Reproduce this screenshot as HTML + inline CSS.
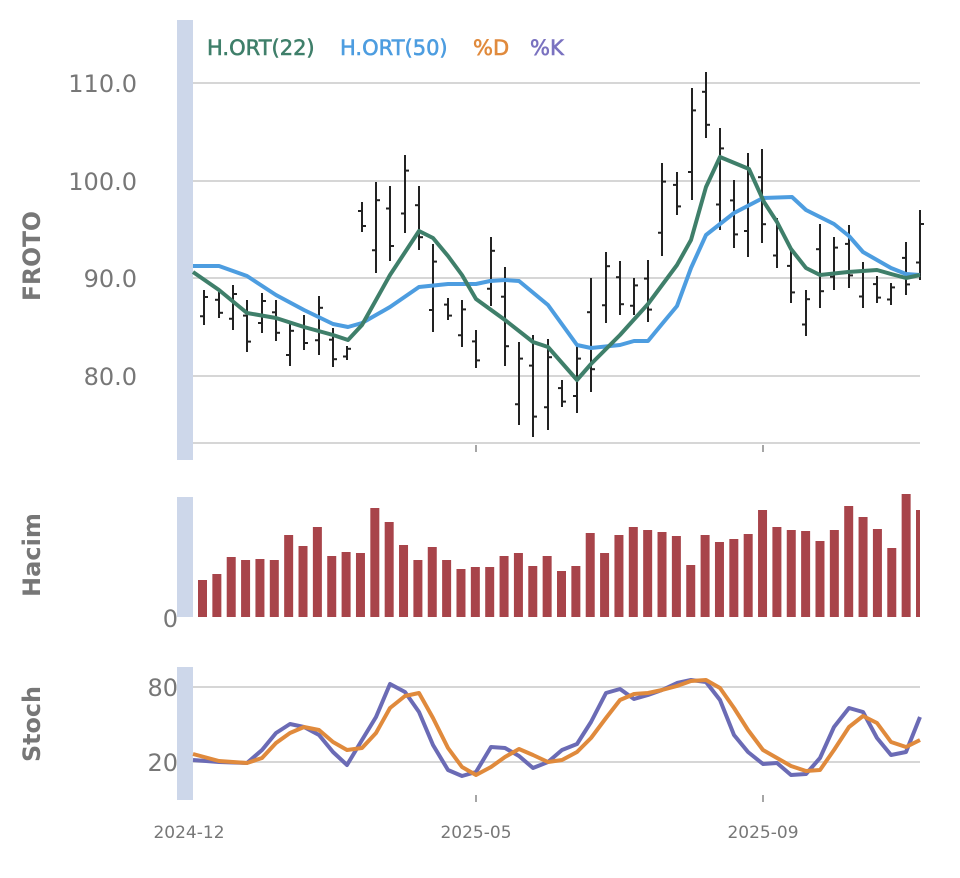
<!DOCTYPE html>
<html><head><meta charset="utf-8"><style>
html,body{margin:0;padding:0;background:#fff;}
svg{display:block;font-family:"DejaVu Sans","Liberation Sans",sans-serif;}
</style></head><body>
<svg id="c" width="960" height="878" xmlns="http://www.w3.org/2000/svg">
<rect width="960" height="878" fill="#fff"/>
<rect x="177" y="20" width="16" height="440" fill="#cdd7ea"/>
<rect x="177" y="497" width="16" height="120" fill="#cdd7ea"/>
<rect x="177" y="667" width="16" height="133" fill="#cdd7ea"/>
<g stroke="#d6d6d6" stroke-width="2">
<line x1="193" y1="83" x2="920" y2="83"/><line x1="193" y1="181" x2="920" y2="181"/>
<line x1="193" y1="278" x2="920" y2="278"/><line x1="193" y1="376" x2="920" y2="376"/>
<line x1="193" y1="443" x2="920" y2="443"/>
<line x1="193" y1="687" x2="920" y2="687"/><line x1="193" y1="762" x2="920" y2="762"/>
</g>
<g stroke="#888" stroke-width="1.5"><line x1="476" y1="445" x2="476" y2="452"/><line x1="763" y1="445" x2="763" y2="452"/>
<line x1="476" y1="795" x2="476" y2="802"/><line x1="763" y1="795" x2="763" y2="802"/></g>
<g fill="#777" font-size="24" text-anchor="end">
<text x="137" y="92">110.0</text><text x="137" y="190">100.0</text><text x="137" y="287">90.0</text><text x="137" y="385">80.0</text>
<text x="178" y="627">0</text><text x="178" y="696">80</text><text x="178" y="771">20</text>
</g>
<g fill="#777" font-size="24" font-weight="bold" text-anchor="middle">
<text transform="translate(40,256) rotate(-90)" textLength="90" lengthAdjust="spacingAndGlyphs">FROTO</text>
<text transform="translate(40,555) rotate(-90)" textLength="84" lengthAdjust="spacingAndGlyphs">Hacim</text>
<text transform="translate(40,724) rotate(-90)" textLength="76" lengthAdjust="spacingAndGlyphs">Stoch</text>
</g>
<g fill="#777" font-size="17" text-anchor="middle">
<text x="189" y="838">2024-12</text><text x="476" y="838">2025-05</text><text x="763" y="838">2025-09</text>
</g>
<g font-size="21" stroke-width="0.6">
<text x="207" y="55" fill="#3f7f6a" stroke="#3f7f6a">H.ORT(22)</text>
<text x="340" y="55" fill="#4d9de0" stroke="#4d9de0">H.ORT(50)</text>
<text x="473" y="55" fill="#e08a3c" stroke="#e08a3c">%D</text>
<text x="530" y="55" fill="#7a72c0" stroke="#7a72c0">%K</text>
</g>
<g id="vol" fill="#a8444a"></g>
<g id="ohlc" stroke="#222" stroke-width="2"></g>
<polyline id="ma50" fill="none" stroke="#4d9de0" stroke-width="4" stroke-linejoin="round"/>
<polyline id="ma22" fill="none" stroke="#3f7f6a" stroke-width="4" stroke-linejoin="round"/>
<polyline id="sk" fill="none" stroke="#6b6bb5" stroke-width="4" stroke-linejoin="round"/>
<polyline id="sd" fill="none" stroke="#e08a3c" stroke-width="4" stroke-linejoin="round"/>
</svg>
<script>
var NS="http://www.w3.org/2000/svg";
var bars=[[204,290,325],[219,292,318],[233,285,330],[247,300,352],[262,293,333],[276,300,341],[290,322,366],[304,315,350],[319,296,355],[333,328,367],[347,346,360],[362,202,232],[376,182,273],[390,186,261],[405,155,233],[419,186,250],[433,244,332],[448,298,320],[462,300,347],[476,330,368],[491,237,306],[505,267,366],[519,342,425],[533,335,437],[548,339,430],[562,380,407],[577,345,413],[591,278,392],[606,252,323],[620,261,315],[634,278,315],[648,260,322],[662,163,256],[677,172,215],[692,88,200],[706,72,138],[720,128,230],[734,180,248],[748,153,257],[762,149,243],[777,218,268],[791,250,303],[806,290,336],[820,224,308],[834,237,290],[849,225,288],[863,262,308],[877,276,303],[891,283,305],[906,242,295],[920,210,280]];
var g=document.getElementById("ohlc");
function ln(x1,y1,x2,y2){var l=document.createElementNS(NS,"line");l.setAttribute("x1",x1);l.setAttribute("y1",y1);l.setAttribute("x2",x2);l.setAttribute("y2",y2);g.appendChild(l);}
bars.forEach(function(b,i){ln(b[0],b[1],b[0],b[2]);var h=b[2]-b[1];var o=b[1]+h*(i%2?0.3:0.75),c=b[1]+h*(i%2?0.8:0.2);ln(b[0]-4,o,b[0],o);ln(b[0],c,b[0]+4,c);});
var vt=[580,574,557,560,559,560,535,546,527,556,552,553,508,522,545,560,547,560,569,567,567,556,553,566,556,571,566,533,553,535,527,530,532,536,565,535,542,539,534,510,527,530,531,541,530,506,517,529,548,494,510];
var vg=document.getElementById("vol");
vt.forEach(function(t,i){var r=document.createElementNS(NS,"rect");var x=198+i*14.36;r.setAttribute("x",x);r.setAttribute("y",t);r.setAttribute("width",Math.min(9,920-x));r.setAttribute("height",617-t);vg.appendChild(r);});
function P(id,s){document.getElementById(id).setAttribute("points",s);}
P("ma22","193,272 219,290 247,313 276,318 304,327 333,335 348,340 362,325 390,275 419,231 433,238 448,256 462,275 476,299 505,320 533,342 548,347 577,380 591,364 620,335 648,304 677,265 691,240 706,187 720,157 749,169 764,202 777,222 791,249 806,268 820,275 848,272 877,270 891,274 906,278 920,275");
P("ma50","193,266 219,266 247,276 276,295 304,310 333,324 348,327 362,323 390,307 419,287 448,284 476,284 490,281 505,280 519,281 548,305 577,345 591,348 620,345 634,341 648,341 662,324 677,306 691,268 706,235 734,213 763,198 792,197 806,210 834,224 849,236 863,252 891,268 906,274 920,275");
P("sk","193,760 219,762 247,763 262,750 276,733 290,724 304,727 319,735 333,752 347,765 362,740 376,717 390,684 405,692 419,712 433,745 448,770 462,776 476,772 491,747 505,748 519,756 533,768 548,762 562,750 577,744 591,722 606,693 620,689 634,699 648,695 662,690 677,683 691,680 706,682 720,700 734,735 748,752 763,764 777,763 791,775 806,774 820,758 834,727 849,708 863,712 877,738 891,755 906,752 920,717");
P("sd","193,754 219,761 247,763 262,758 276,743 290,733 304,727 319,730 333,742 347,750 362,748 376,733 390,708 405,696 419,693 433,718 448,748 462,767 476,775 491,767 505,757 519,749 533,755 548,762 562,760 577,752 591,738 606,718 620,700 634,694 648,693 662,690 677,686 691,681 706,680 720,688 734,708 748,730 763,750 777,758 791,766 806,771 820,770 834,750 849,727 863,716 877,723 891,742 906,747 920,740");
</script>
</body></html>
